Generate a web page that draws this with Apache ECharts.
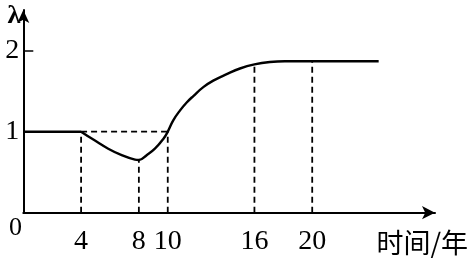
<!DOCTYPE html>
<html><head><meta charset="utf-8">
<script src="https://cdn.jsdelivr.net/npm/echarts@6/dist/echarts.min.js"></script>
<style>html,body{margin:0;padding:0;background:#fff}#c{width:470px;height:259px}</style>
</head><body><div id="c"></div>
<script>
// Data
const flatX = [0, 4];
const flatY = [1, 1];
const curveX = [4, 4.96, 5.88, 6.81, 7.73, 8, 8.54, 9.11, 9.69, 10, 10.38, 10.84, 11.31, 11.77, 12.46, 13.15, 14.08, 15, 16, 17.07, 18.1, 20, 24.6];
const curveY = [1, 0.89, 0.79, 0.71, 0.655, 0.65, 0.71, 0.79, 0.91, 1, 1.14, 1.26, 1.36, 1.44, 1.55, 1.63, 1.71, 1.78, 1.83, 1.86, 1.87, 1.87, 1.87];
const guideX = [4, 8, 10, 16, 20];
const guideTop = [1, 0.65, 1, 1.83, 1.87];
const hGuideX = [4, 10];
const hGuideY = [1, 1];
const xTickLabels = [4, 8, 10, 16, 20];
const yTickLabels = [1, 2];
const yTickMarks = [2];
const xName = '时间/年';
const yName = 'λ';
const originLabel = '0';

const serif = '"Liberation Serif", "DejaVu Serif", serif';
const zip = (a, b) => a.map((v, i) => [v, b[i]]);

const dashStyle = { color: '#000', width: 1.8, type: [6, 4] };
const series = [
  { type: 'line', data: zip(flatX, flatY), symbol: 'none', lineStyle: { color: '#000', width: 2.4 } },
  { type: 'line', data: zip(curveX, curveY), symbol: 'none', smooth: 0.45, lineStyle: { color: '#000', width: 2.4 } },
  { type: 'line', data: zip(hGuideX, hGuideY), symbol: 'none', lineStyle: dashStyle, z: 1 }
];
guideX.forEach((x, i) => {
  series.push({ type: 'line', data: [[x, 0], [x, guideTop[i]]], symbol: 'none', lineStyle: dashStyle, z: 1 });
});

const chart = echarts.init(document.getElementById('c'), null, { renderer: 'canvas' });
chart.setOption({
  animation: false,
  backgroundColor: '#fff',
  grid: { left: 23.3, right: 35, top: 10, bottom: 46.3, containLabel: false, outerBoundsMode: 'none' },
  xAxis: {
    type: 'value', min: 0, max: 28.5,
    splitLine: { show: false },
    axisLine: { show: true, onZero: false, symbol: ['none', 'arrow'], symbolSize: [10, 13], symbolOffset: [0, 0], lineStyle: { color: '#000', width: 2 } },
    axisTick: { show: false },
    axisLabel: { customValues: xTickLabels, margin: 15, color: '#000', fontFamily: serif, fontSize: 28 },
    name: xName, nameLocation: 'end', nameGap: 33,
    nameTextStyle: { color: '#000', fontFamily: '"Noto Sans CJK SC", sans-serif', fontSize: 27, align: 'right', verticalAlign: 'top', padding: [17, 0, 0, 0] }
  },
  yAxis: {
    type: 'value', min: 0, max: 2.502,
    splitLine: { show: false },
    axisLine: { show: true, onZero: false, symbol: ['none', 'arrow'], symbolSize: [9, 13], lineStyle: { color: '#000', width: 2 } },
    axisTick: { show: true, customValues: yTickMarks, inside: true, length: 10, lineStyle: { color: '#000', width: 1.5 } },
    axisLabel: { customValues: yTickLabels, margin: 4, color: '#000', fontFamily: serif, fontSize: 28 },
    name: yName, nameLocation: 'end', nameGap: -6,
    nameTextStyle: { color: '#000', fontFamily: serif, fontSize: 26, fontWeight: 'bold', align: 'right', verticalAlign: 'middle', padding: [0, 3, 0, 0] }
  },
  graphic: [
    { type: 'text', left: 9, top: 215, style: { text: originLabel, font: '26px ' + serif, fill: '#000' } }
  ],
  series: series
});
</script>
</body></html>
